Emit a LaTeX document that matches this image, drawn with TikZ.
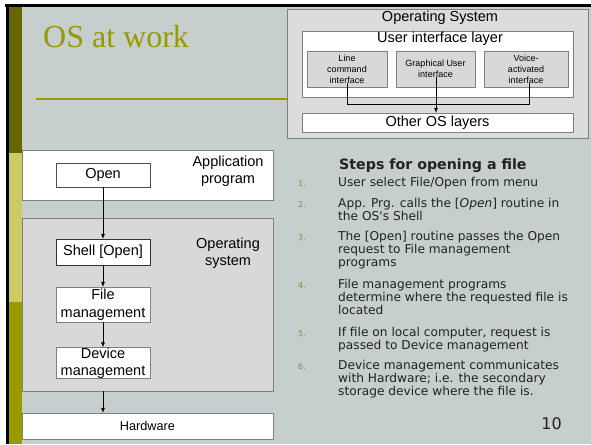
\documentclass[tikz,border=0pt]{standalone}
\usepackage{fontspec}
\setmainfont{Liberation Sans}
\newfontfamily\verd{DejaVu Sans}
\newfontfamily\titlef{Liberation Serif}
\usetikzlibrary{arrows.meta}
\definecolor{bg}{HTML}{C6CECE}
\definecolor{olivedark}{HTML}{666600}
\definecolor{olivelight}{HTML}{CCCC66}
\definecolor{olivemid}{HTML}{999900}
\definecolor{numcol}{HTML}{8C8C46}
\definecolor{boxgray}{HTML}{D8D8D8}
\definecolor{outergray}{HTML}{DCDCDC}
\definecolor{bordergray}{HTML}{808080}
\definecolor{txt}{HTML}{222222}
\tikzset{
  wbox/.style={draw=bordergray, fill=white, inner sep=0pt, align=center, text=black,
    font=\fontsize{14.5}{17.5}\selectfont},
  gbox/.style={draw=bordergray, fill=boxgray, inner sep=0pt, align=center, text=black,
    font=\fontsize{9}{11}\selectfont},
  lbl/.style={inner sep=0pt, align=center, text=black, font=\fontsize{14.5}{17.5}\selectfont},
  arr/.style={-{Latex[length=5pt,width=4pt]}, black, line width=0.6pt},
  conn/.style={black, line width=0.8pt},
  num/.style={anchor=base west, inner sep=0pt, text=numcol, font=\verd\fontsize{8}{10}\selectfont},
  item/.style={anchor=base west, inner sep=0pt, text=txt, font=\verd\fontsize{12.2}{13.4}\selectfont}
}
\begin{document}
\begin{tikzpicture}[x=1pt,y=-1pt]
\useasboundingbox (0,0) rectangle (591,444);
\fill[white] (0,0) rectangle (591,444);
\fill[bg] (9,7) rectangle (591,444);
\fill[olivedark] (9,7) rectangle (22,153);
\fill[olivelight] (9,153) rectangle (22,302);
\fill[olivemid] (9,302) rectangle (22,444);
\fill[black] (5,4) rectangle (591,7);
\fill[black] (6,4) rectangle (9,444);

% title
\node[anchor=base west, inner sep=0pt, text=olivemid, font=\titlef\fontsize{32}{36}\selectfont] (title) at (43,48) {OS at work};
\draw[olivemid, line width=2pt] (36,99) -- (287,99);

% top-right diagram
\node[draw=bordergray, fill=outergray, minimum width=301pt, minimum height=129pt, inner sep=0pt] (outer) at (437.5,73.5) {};
\node[lbl] (outerlbl) at (440,18) {Operating System};
\node[wbox, minimum width=271pt, minimum height=66pt] (uil) at (437.5,64) {};
\node[lbl] (uillbl) at (440,39) {User interface layer};
\node[gbox, minimum width=80pt, minimum height=36pt] (lci) at (347,69) {Line\\command\\interface};
\node[gbox, minimum width=79pt, minimum height=36pt] (gui) at (435.5,69) {Graphical User\\interface};
\node[gbox, minimum width=84pt, minimum height=36pt] (vai) at (526,69) {Voice-\\activated\\interface};
\node[wbox, minimum width=271pt, minimum height=19pt] (other) at (437.5,122.5) {Other OS layers};
\coordinate (lcis) at (347,83);
\coordinate (vais) at (529,83);
\coordinate (guis) at (436,77);
\draw[conn] (lcis) -- (347,104) -- (529,104) -- (vais);
\draw[arr] (guis) -- (guis |- other.north);

% left diagram
\node[wbox, minimum width=251pt, minimum height=50pt] (app) at (147.5,175) {};
\node[wbox, draw=black!70, minimum width=94pt, minimum height=24pt] (open) at (103,175) {Open};
\node[lbl] (applbl) at (228,171) {Application\\program};
\node[draw=bordergray, fill=boxgray, minimum width=251pt, minimum height=173pt, inner sep=0pt] (osbox) at (147.5,304.5) {};
\node[lbl] (oslbl) at (228,253) {Operating\\system};
\node[wbox, draw=black!80, minimum width=94pt, minimum height=26pt] (shell) at (103,252) {Shell [Open]};
\node[wbox, minimum width=94pt, minimum height=35pt] (file) at (103,304.5) {File\\management};
\node[wbox, minimum width=94pt, minimum height=30pt] (device) at (103,363) {Device\\management};
\node[wbox, minimum width=251pt, minimum height=26pt, font=\fontsize{12.7}{15}\selectfont] (hw) at (147.5,426) {Hardware};
\draw[arr] (open.south) -- (shell.north);
\draw[arr] (shell.south) -- (file.north);
\draw[arr] (file.south) -- (device.north);
\draw[arr] (osbox.south -| open.center) -- (hw.north -| open.center);

% steps text
\node[anchor=base west, inner sep=0pt, text=txt, font=\verd\bfseries\fontsize{14.2}{16}\selectfont] (head) at (339,169) {Steps for opening a file};
\node[num] (n1) at (298,186) {1.};
\node[item] (i1) at (338,186) {User select File/Open from menu};
\node[num] (n2) at (298,207) {2.};
\node[item] (i2) at (338,207) {\parbox[t]{250pt}{App. Prg. calls the [\textit{Open}] routine in\\the OS's Shell}};
\node[num] (n3) at (298,240) {3.};
\node[item] (i3) at (338,240) {\parbox[t]{250pt}{The [Open] routine passes the Open\\request to File management\\programs}};
\node[num] (n4) at (298,288) {4.};
\node[item] (i4) at (338,288) {\parbox[t]{250pt}{File management programs\\determine where the requested file is\\located}};
\node[num] (n5) at (298,336) {5.};
\node[item] (i5) at (338,336) {\parbox[t]{250pt}{If file on local computer, request is\\passed to Device management}};
\node[num] (n6) at (298,369) {6.};
\node[item] (i6) at (338,369) {\parbox[t]{250pt}{Device management communicates\\with Hardware; i.e. the secondary\\storage device where the file is.}};
\node[anchor=base east, inner sep=0pt, text=txt, font=\verd\fontsize{16}{18}\selectfont] (pg) at (562,429) {10};
\end{tikzpicture}
\end{document}
